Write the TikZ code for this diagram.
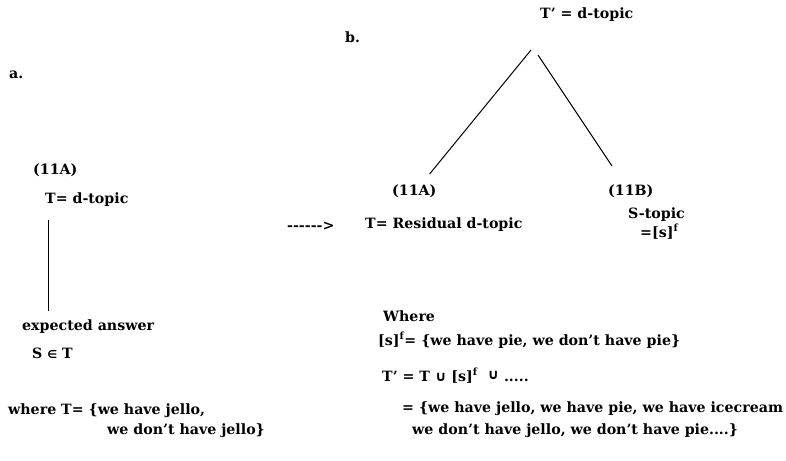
\documentclass[tikz,border=0pt]{standalone}
\usepackage{fontspec}
\setmainfont{DejaVu Serif}
\newfontfamily\symfont{DejaVu Sans}
\usetikzlibrary{positioning}
\newcommand{\setf}{[s]\textsuperscript{f}}
\newcommand{\cupsym}{{\symfont\bfseries ∪}}
\newcommand{\insym}{{\symfont\fontsize{11}{13}\selectfont ∈}}

\begin{document}
\begin{tikzpicture}[x=1pt,y=-1pt,every node/.style={font=\bfseries\fontsize{14.2}{17}\selectfont,inner sep=0pt,anchor=base west}]
\tikzset{tline/.style={line width=1pt,black}}
\useasboundingbox (0,0) rectangle (786,460);
% panel a
\node (pa) at (9,78) {a.};
\node (la) at (33,174) {(11A)};
\node (tdl) at (45,203) {T= d-topic};
\node (exp) at (22,330) {expected answer};
\node (sin) at (32,358) {S \insym\ T};
\node (wh1) at (8,414) {where T= \{we have jello,};
\node (wh2) at (107,434) {we don’t have jello\}};
\draw[tline] ([xshift=3pt,yshift=-14pt]tdl.south west) -- ([xshift=26pt,yshift=8pt]exp.north west);
% arrow between the panels
\node (go) at (287,230) {-{}-{}-{}-{}-{}->};
% panel b
\node (pb) at (345,42) {b.};
\node (troot) at (540,19) {T’ = d-topic};
\node (ra) at (392,195) {(11A)};
\node (rres) at (365,228) {T= Residual d-topic};
\node (rb) at (608,195) {(11B)};
\node (stop) at (628,218) {S-topic};
\node (sval) at (640,237) {=\setf};
\coordinate (apexL) at (531,50);
\coordinate (apexR) at (538,55);
\draw[tline] (apexL) -- ([xshift=-7pt,yshift=10pt]ra.north east);
\draw[tline] (apexR) -- ([xshift=4pt,yshift=18pt]rb.north west);
\node (wr) at (383,321) {Where};
\node (sdef) at (378,345) {\setf = \{we have pie, we don’t have pie\}};
\node (tdef) at (382,381) {T’ = T \cupsym\ \setf\ \ \raisebox{2pt}{\cupsym}\ .....};
\node (tv1) at (402,412) {= \{we have jello, we have pie, we have icecream};
\node (tv2) at (412,434) {we don’t have jello, we don’t have pie....\}};
\end{tikzpicture}
\end{document}
